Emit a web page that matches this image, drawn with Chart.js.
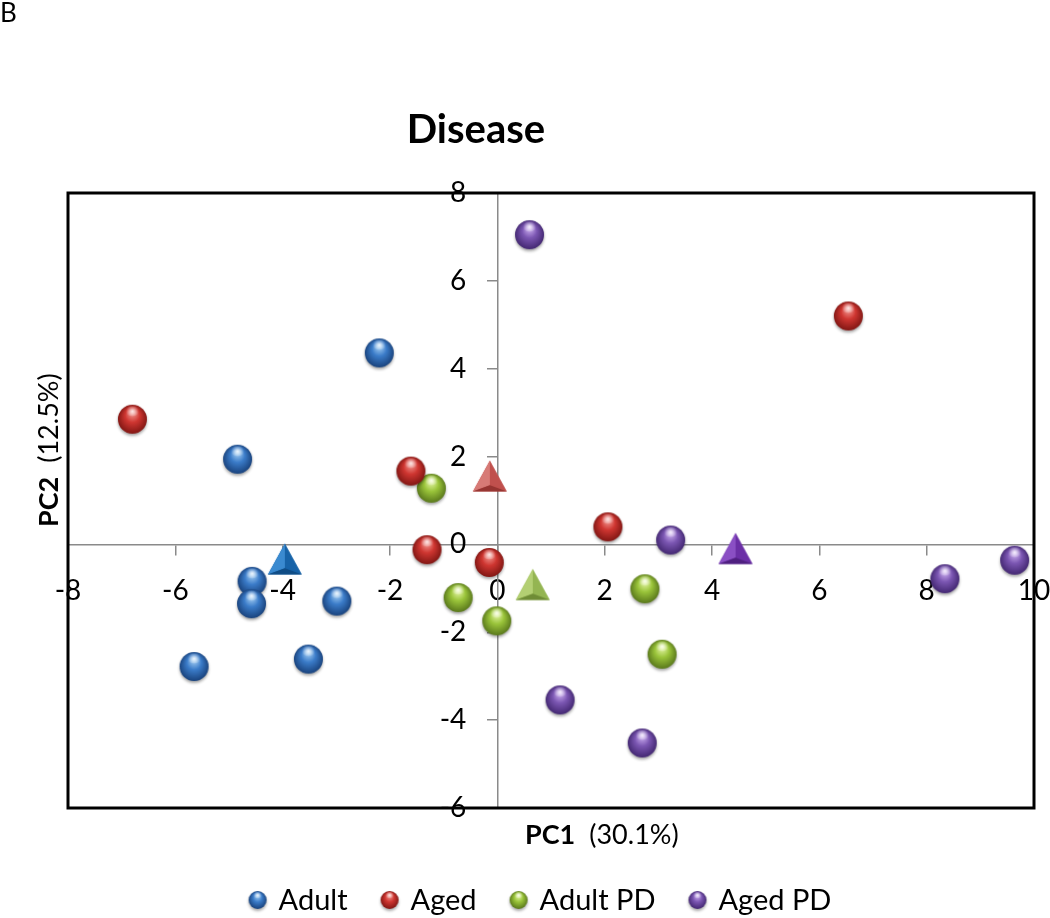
<!DOCTYPE html>
<html>
<head>
<meta charset="utf-8">
<script src="https://cdn.jsdelivr.net/npm/chart.js@4.4.1/dist/chart.umd.min.js"></script>
<style>
  body { margin: 0; background: #fff; }
  canvas { display: block; }
</style>
</head>
<body>
<canvas id="myChart" width="1050" height="918"></canvas>
<script>
// PCA scores
var adultX = [-2.20, -4.84, -4.57, -4.58, -2.99, -3.52, -5.65];
var adultY = [4.36, 1.94, -0.84, -1.35, -1.29, -2.61, -2.78];
var agedX = [-6.80, -1.61, -1.31, -0.15, 2.06, 6.54];
var agedY = [2.85, 1.67, -0.12, -0.41, 0.40, 5.20];
var adultPdX = [-1.23, -0.73, -0.01, 2.75, 3.07];
var adultPdY = [1.28, -1.21, -1.74, -1.01, -2.50];
var agedPdX = [0.60, 3.23, 8.34, 9.64, 1.17, 2.70];
var agedPdY = [7.05, 0.10, -0.78, -0.36, -3.54, -4.52];

// group centroids (triangles)
var groups = ["Adult", "Aged", "Adult PD", "Aged PD"];
var meanX = [-3.96, -0.14, 0.66, 4.44];
var meanY = [-0.33, 1.56, -0.91, -0.09];

var xTicks = [-8, -6, -4, -2, 0, 2, 4, 6, 8, 10];
var yTicks = [-6, -4, -2, 0, 2, 4, 6, 8];

// sphere colours: light, base, dark
var sphereColors = [
  ["#a9d2f5", "#3b7cc9", "#173f78"],
  ["#f39a94", "#cf3631", "#7d1512"],
  ["#e6f7a8", "#9ac43a", "#56741a"],
  ["#cfb2f2", "#7b56b2", "#40256e"]
];
var triColors = [
  ["#3a8ad0", "#1763a8", "#0f4c85"],
  ["#d77a76", "#c0504d", "#963431"],
  ["#b3cf73", "#94b552", "#6f8c36"],
  ["#8a4fc4", "#6b2fa6", "#4f1f80"]
];

Chart.defaults.font.family = "Lato";

function makeSphere(c, d) {
  var size = Math.ceil(d + 10);
  var cv = document.createElement("canvas");
  cv.width = size;
  cv.height = size;
  var ctx = cv.getContext("2d");
  var cx = size / 2, cy = size / 2, r = d / 2;
  ctx.save();
  ctx.shadowColor = "rgba(0,0,0,0.35)";
  ctx.shadowBlur = 3;
  ctx.shadowOffsetY = 2;
  var g = ctx.createRadialGradient(cx, cy - r * 0.5, r * 0.05, cx, cy, r * 1.05);
  g.addColorStop(0, c[0]);
  g.addColorStop(0.45, c[1]);
  g.addColorStop(1, c[2]);
  ctx.fillStyle = g;
  ctx.beginPath();
  ctx.arc(cx, cy, r, 0, Math.PI * 2);
  ctx.fill();
  ctx.restore();
  // top highlight
  var h = ctx.createRadialGradient(cx, cy - r * 0.55, 0, cx, cy - r * 0.55, r * 0.45);
  h.addColorStop(0, "rgba(255,255,255,0.75)");
  h.addColorStop(1, "rgba(255,255,255,0)");
  ctx.fillStyle = h;
  ctx.beginPath();
  ctx.ellipse(cx, cy - r * 0.55, r * 0.5, r * 0.35, 0, 0, Math.PI * 2);
  ctx.fill();
  return cv;
}

function makeTriangle(c, w, ht) {
  var size = Math.ceil(Math.max(w, ht) + 6);
  var cv = document.createElement("canvas");
  cv.width = size;
  cv.height = size;
  var ctx = cv.getContext("2d");
  var cx = size / 2, top = (size - ht) / 2, bot = top + ht;
  var inner = [cx, bot - ht * 0.2];
  ctx.fillStyle = c[1];
  ctx.beginPath();
  ctx.moveTo(cx, top); ctx.lineTo(cx - w / 2, bot); ctx.lineTo(cx + w / 2, bot);
  ctx.closePath();
  ctx.fill();
  ctx.fillStyle = c[0];
  ctx.beginPath();
  ctx.moveTo(cx, top); ctx.lineTo(cx - w / 2, bot); ctx.lineTo(inner[0], inner[1]);
  ctx.closePath();
  ctx.fill();
  ctx.fillStyle = c[2];
  ctx.beginPath();
  ctx.moveTo(cx - w / 2, bot); ctx.lineTo(cx + w / 2, bot); ctx.lineTo(inner[0], inner[1]);
  ctx.closePath();
  ctx.fill();
  return cv;
}

var spheres = sphereColors.map(c => makeSphere(c, 29));
var legendSpheres = sphereColors.map(c => makeSphere(c, 18));
var triangles = triColors.map(c => makeTriangle(c, 34, 31));

function pts(xs, ys) {
  return xs.map((x, i) => ({ x: x, y: ys[i] }));
}

var seriesX = [adultX, agedX, adultPdX, agedPdX];
var seriesY = [adultY, agedY, adultPdY, agedPdY];

var datasets = [];
groups.forEach((name, i) => {
  datasets.push({
    label: name + " mean",
    data: [{ x: meanX[i], y: meanY[i] }],
    pointStyle: triangles[i],
    pointRadius: 15,
    clip: false
  });
});
groups.forEach((name, i) => {
  datasets.push({
    label: name,
    data: pts(seriesX[i], seriesY[i]),
    pointStyle: spheres[i],
    pointRadius: 14,
    clip: false
  });
});

function drawParts(ctx, parts, x, y) {
  parts.forEach(p => {
    ctx.font = p.font;
    ctx.fillText(p.text, x, y);
    x += ctx.measureText(p.text).width + (p.gap || 0);
  });
}

var decor = {
  id: "decor",
  beforeDatasetsDraw(chart) {
    var ctx = chart.ctx, a = chart.chartArea;
    ctx.save();
    ctx.strokeStyle = "#000";
    ctx.lineWidth = 3;
    ctx.strokeRect(a.left, a.top, a.right - a.left, a.bottom - a.top);

    // y tick labels, offset left of the centred axis
    var x0 = chart.scales.x.getPixelForValue(0);
    var ys = chart.scales.y;
    ctx.fillStyle = "#000";
    ctx.font = "28px Lato";
    ctx.textAlign = "right";
    ctx.textBaseline = "middle";
    yTicks.forEach(v => {
      ctx.fillText(String(v), x0 - 31, ys.getPixelForValue(v));
    });
    ctx.restore();
  },
  afterDraw(chart) {
    var ctx = chart.ctx;
    ctx.save();
    ctx.fillStyle = "#000";
    ctx.textBaseline = "alphabetic";
    ctx.textAlign = "left";

    ctx.font = "26px Lato";
    ctx.fillText("B", 0, 22);

    ctx.font = "bold 40px Lato";
    ctx.textAlign = "center";
    ctx.fillText("Disease", 476, 143);
    ctx.textAlign = "left";

    // x axis title
    drawParts(ctx, [
      { text: "PC1", font: "bold 27px Lato", gap: 14 },
      { text: "(30.1%)", font: "27px Lato" }
    ], 525, 844);

    // y axis title, rotated
    ctx.save();
    ctx.translate(58, 527);
    ctx.rotate(-Math.PI / 2);
    drawParts(ctx, [
      { text: "PC2", font: "bold 27px Lato", gap: 14 },
      { text: "(12.5%)", font: "27px Lato" }
    ], 0, 0);
    ctx.restore();

    // legend
    ctx.font = "29px Lato";
    var widths = groups.map(g => ctx.measureText(g).width);
    var dot = 18, gapDot = 12, gapItem = 33;
    var total = 0;
    widths.forEach((w, i) => {
      total += dot + gapDot + w + (i < widths.length - 1 ? gapItem : 0);
    });
    var lx = 540 - total / 2;
    var ly = 900;
    groups.forEach((g, i) => {
      var img = legendSpheres[i];
      ctx.drawImage(img, lx + dot / 2 - img.width / 2, ly - img.height / 2);
      ctx.fillText(g, lx + dot + gapDot, ly + 10);
      lx += dot + gapDot + widths[i] + gapItem;
    });
    ctx.restore();
  }
};

function noPad(s) {
  s.paddingLeft = 0;
  s.paddingRight = 0;
  s.paddingTop = 0;
  s.paddingBottom = 0;
}

var ctx = document.getElementById("myChart").getContext("2d");
var chart = new Chart(ctx, {
  type: "scatter",
  data: { datasets: datasets },
  options: {
    responsive: false,
    animation: false,
    events: [],
    layout: { padding: { left: 68, right: 16, top: 193, bottom: 110 } },
    plugins: {
      legend: { display: false },
      title: { display: false },
      tooltip: { enabled: false }
    },
    scales: {
      x: {
        type: "linear",
        position: { y: 0 },
        min: xTicks[0],
        max: xTicks[xTicks.length - 1],
        afterBuildTicks: axis => { axis.ticks = xTicks.map(v => ({ value: v })); },
        afterFit: noPad,
        border: { color: "#8a8a8a", width: 1.5 },
        grid: { drawOnChartArea: false, drawTicks: true, tickLength: 10, color: "#8a8a8a", lineWidth: 1.5 },
        ticks: { color: "#000", font: { size: 28 }, padding: 20, maxRotation: 0 }
      },
      y: {
        type: "linear",
        position: { x: 0 },
        min: yTicks[0],
        max: yTicks[yTicks.length - 1],
        afterBuildTicks: axis => { axis.ticks = yTicks.map(v => ({ value: v })); },
        afterFit: noPad,
        border: { color: "#8a8a8a", width: 1.5 },
        grid: { drawOnChartArea: false, drawTicks: true, tickLength: 10, color: "#8a8a8a", lineWidth: 1.5 },
        ticks: { display: false }
      }
    }
  },
  plugins: [decor]
});
</script>
</body>
</html>
